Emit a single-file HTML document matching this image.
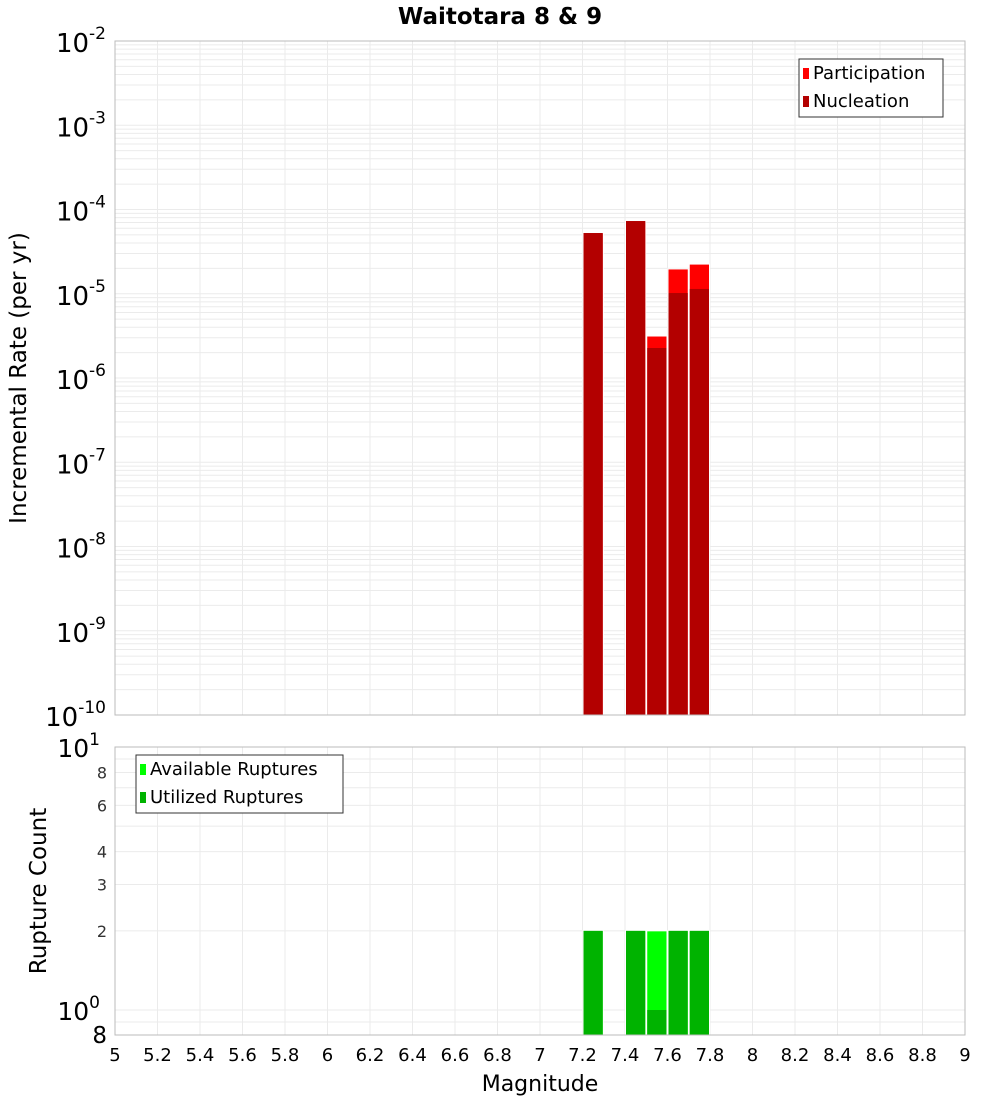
<!DOCTYPE html>
<html><head><meta charset="utf-8"><style>
body{margin:0;background:#fff;font-family:"Liberation Sans","DejaVu Sans",sans-serif}
svg text{font-family:"DejaVu Sans","Liberation Sans",sans-serif}
</style></head><body>
<svg id="c" width="1000" height="1100"></svg>
<script>
const mags=[7.25,7.45,7.55,7.65,7.75];
const participation=[5.26e-5,7.3e-5,3.15e-6,1.97e-5,2.25e-5];
const nucleation=[5.26e-5,7.3e-5,2.27e-6,1.02e-5,1.14e-5];
const available=[2,2,2,2,2];
const utilized=[2,2,1,2,2];
const xTicks=[5,5.2,5.4,5.6,5.8,6,6.2,6.4,6.6,6.8,7,7.2,7.4,7.6,7.8,8,8.2,8.4,8.6,8.8,9];
const topExps=[-2,-3,-4,-5,-6,-7,-8,-9,-10];
const botTicks=[8,6,4,3,2];

const svg=document.getElementById('c');
const NS='http://www.w3.org/2000/svg';
function mk(t,a,p){const e=document.createElementNS(NS,t);for(const k in a)e.setAttribute(k,a[k]);(p||svg).appendChild(e);return e;}
const L=115,R=965,T1=41,B1=715,T2=747,B2=1035;
const x=m=>L+(m-5)/4*(R-L);
const y1=v=>T1+(-2-Math.log10(v))*(B1-T1)/8;
const y2=v=>T2+(1-Math.log10(v))*263;

let r=mk('rect',{x:L,y:T1,width:R-L,height:B1-T1,fill:'#fff'});

for(const m of xTicks){const xx=x(m);
 mk('line',{x1:xx,x2:xx,y1:T1,y2:B1,stroke:'#ebebeb'});
 mk('line',{x1:xx,x2:xx,y1:T2,y2:B2,stroke:'#ebebeb'});}
for(let e=-10;e<-2;e++)for(let k=1;k<10;k++){const yy=y1(k*Math.pow(10,e));
 mk('line',{x1:L,x2:R,y1:yy,y2:yy,stroke:'#ebebeb'});}
for(let v=0.8;v<=10.01;v+=(v<1?0.1:1)){const yy=y2(v);if(yy<T2||yy>B2)continue;
 mk('line',{x1:L,x2:R,y1:yy,y2:yy,stroke:'#ebebeb'});}

mags.forEach((m,i)=>{
 const x0=x(m-0.05),w=x(m+0.05)-x0;
 let b=mk('rect',{x:x0+0.5,y:y1(participation[i]),width:w-1,height:B1-y1(participation[i]),fill:'#ff0000',stroke:'#fff','stroke-width':1});
 
 b=mk('rect',{x:x0+1,y:y1(nucleation[i]),width:w-2,height:B1-y1(nucleation[i]),fill:'#b30000'});
 
 b=mk('rect',{x:x0+0.5,y:y2(available[i]),width:w-1,height:B2-y2(available[i]),fill:'#00ff00',stroke:'#fff','stroke-width':1});
 
 b=mk('rect',{x:x0+1,y:y2(utilized[i]),width:w-2,height:B2-y2(utilized[i]),fill:'#00b300'});
 
});
mk('rect',{x:L,y:T1,width:R-L,height:B1-T1,fill:'none',stroke:'#bbb'});
mk('rect',{x:L,y:T2,width:R-L,height:B2-T2,fill:'none',stroke:'#bbb'});

topExps.forEach(e=>{const yy=y1(Math.pow(10,e));
 const t=mk('text',{x:106,y:yy+11,'text-anchor':'end','font-size':26});
 
 t.textContent='10';const s=mk('tspan',{dy:-13,'font-size':17},t);s.textContent=String(e);});
botTicks.forEach(v=>{const t=mk('text',{x:107,y:y2(v)+6,'text-anchor':'end','font-size':16,fill:'#333'});
 t.textContent=v;});
[[10,'1'],[1,'0']].forEach(([v,e])=>{const t=mk('text',{x:100,y:y2(v)+10,'text-anchor':'end','font-size':25});
 
 t.textContent='10';const s=mk('tspan',{dy:-12,'font-size':17},t);s.textContent=e;});
let t8=mk('text',{x:107,y:1043,'text-anchor':'end','font-size':23});t8.textContent='8';

xTicks.forEach(m=>{const t=mk('text',{x:x(m),y:1061,'text-anchor':'middle','font-size':18});
 t.textContent=String(m);});

function txt(s,a,name){const t=mk('text',a);t.textContent=s;return t;}
txt('Waitotara 8 & 9',{x:500,y:24,'text-anchor':'middle','font-size':23,'font-weight':'bold'},'chart-title');
txt('Magnitude',{x:540,y:1091,'text-anchor':'middle','font-size':22},'x-axis-title');
txt('Incremental Rate (per yr)',{x:0,y:0,'text-anchor':'middle','font-size':23,transform:'translate(26,378) rotate(-90)'},'y-axis-title');
txt('Rupture Count',{x:0,y:0,'text-anchor':'middle','font-size':23,transform:'translate(46,891) rotate(-90)'},'y2-axis-title');

function legend(x0,y0,w,items,name){const g=mk('g',{});
 mk('rect',{x:x0,y:y0,width:w,height:58,fill:'#fff',stroke:'#333'},g);
 items.forEach(([c,s],i)=>{mk('rect',{x:x0+4,y:y0+9+i*28,width:6,height:11,fill:c},g);
  const t=mk('text',{x:x0+14,y:y0+20+i*28,'font-size':18},g);t.textContent=s;});}
legend(799,59,144,[['#ff0000','Participation'],['#b30000','Nucleation']],'top-legend');
legend(136,755,207,[['#00ff00','Available Ruptures'],['#00b300','Utilized Ruptures']],'bottom-legend');
</script>
</body></html>
